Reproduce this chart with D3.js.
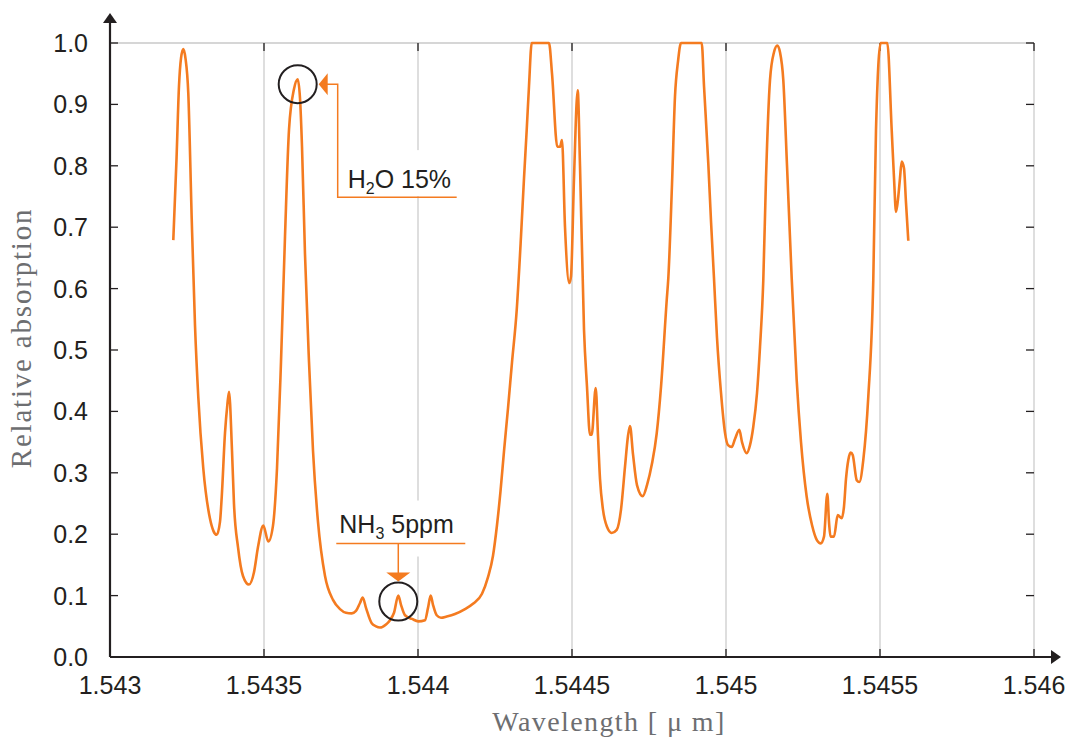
<!DOCTYPE html>
<html>
<head>
<meta charset="utf-8">
<script src="https://cdn.jsdelivr.net/npm/d3@7"></script>
<style>
  body { margin: 0; background: #fff; }
  svg { display: block; }
  .tick-label { font-family: 'Liberation Sans', Arial, sans-serif; font-size: 25px; fill: #231f20; }
  .axis-title { font-family: 'Liberation Serif', 'Times New Roman', serif; fill: #6d6e71; }
  .note { font-family: 'Liberation Sans', Arial, sans-serif; font-size: 25px; fill: #231f20; }
</style>
</head>
<body>
<div id="chart"></div>
<script>
// wavelength [um]
const wavelength = [
  1.5432055, 1.5432159, 1.5432240, 1.5432305, 1.5432380, 1.5432451, 1.5432542, 1.5432653,
  1.5432760, 1.5432867, 1.5433029, 1.5433247, 1.5433360, 1.5433464, 1.5433571, 1.5433627,
  1.5433734, 1.5433808, 1.5433864, 1.5433961, 1.5434026, 1.5434156, 1.5434318, 1.5434513, 1.5434675,
  1.5434805, 1.5434977, 1.5435140, 1.5435292, 1.5435422, 1.5435552, 1.5435682, 1.5435812,
  1.5435974, 1.5436094, 1.5436169, 1.5436234, 1.5436331, 1.5436461, 1.5436591, 1.5436753,
  1.5436981, 1.5437240, 1.5437468, 1.5437662, 1.5437847, 1.5437987, 1.5438117, 1.5438205,
  1.5438312, 1.5438497, 1.5438636, 1.5438766, 1.5438961, 1.5439091, 1.5439221, 1.5439360,
  1.5439448, 1.5439578, 1.5439805, 1.5440010, 1.5440227, 1.5440325, 1.5440412, 1.5440487,
  1.5440607, 1.5440747, 1.5440932, 1.5441201, 1.5441526, 1.5441795, 1.5442078, 1.5442273,
  1.5442435, 1.5442565, 1.5442679, 1.5442792, 1.5442922, 1.5443052, 1.5443205, 1.5443344,
  1.5443442, 1.5443529, 1.5443604, 1.5443692, 1.5444253,
  1.5444351, 1.5444523, 1.5444610, 1.5444675, 1.5444773, 1.5444912, 1.5444968, 1.5445065,
  1.5445185, 1.5445260, 1.5445390, 1.5445487, 1.5445584, 1.5445640, 1.5445770, 1.5445844,
  1.5445909, 1.5446006, 1.5446136, 1.5446289, 1.5446451, 1.5446591, 1.5446721, 1.5446818,
  1.5446883, 1.5446981, 1.5447110, 1.5447295, 1.5447435, 1.5447597, 1.5447750, 1.5447890,
  1.5448075, 1.5448127, 1.5448247, 1.5448344, 1.5448442, 1.5448539, 1.5449211, 1.5449286,
  1.5449425, 1.5449513, 1.5449610, 1.5449708, 1.5449838, 1.5449968, 1.5450065, 1.5450185,
  1.5450292, 1.5450432, 1.5450520, 1.5450672, 1.5450779, 1.5450886, 1.5451007, 1.5451104,
  1.5451211, 1.5451299, 1.5451429, 1.5451558, 1.5451666, 1.5451753, 1.5451860, 1.5451981,
  1.5452133, 1.5452295, 1.5452435, 1.5452620, 1.5452792, 1.5452955, 1.5453075, 1.5453182,
  1.5453289, 1.5453344, 1.5453393, 1.5453507, 1.5453627, 1.5453756, 1.5453831, 1.5453896,
  1.5453971, 1.5454049, 1.5454114, 1.5454244, 1.5454328, 1.5454458, 1.5454620, 1.5454782,
  1.5454870, 1.5455023, 1.5455237, 1.5455380, 1.5455455, 1.5455520, 1.5455594, 1.5455649,
  1.5455705, 1.5455779, 1.5455844, 1.5455919
]

const absorption = [
  0.679, 0.81, 0.93, 0.975, 0.99, 0.975, 0.918, 0.714,
  0.54, 0.423, 0.307, 0.225, 0.205, 0.199, 0.22, 0.26,
  0.365, 0.41, 0.432, 0.336, 0.249, 0.179, 0.132, 0.118, 0.138,
  0.179, 0.214, 0.188, 0.214, 0.307, 0.481, 0.685, 0.859,
  0.925, 0.941, 0.91, 0.831, 0.656, 0.481, 0.336, 0.22,
  0.132, 0.093, 0.078, 0.072, 0.071, 0.075, 0.088, 0.097,
  0.08, 0.055, 0.05, 0.048, 0.053, 0.06, 0.072, 0.10,
  0.085, 0.068, 0.062, 0.058, 0.06, 0.08, 0.10, 0.085,
  0.068, 0.064, 0.066, 0.07, 0.078, 0.087, 0.103, 0.13,
  0.165, 0.215, 0.27, 0.335, 0.405, 0.48, 0.565, 0.685,
  0.78, 0.858, 0.93, 1.0, 1.0,
  0.95, 0.831, 0.831, 0.842, 0.70, 0.609, 0.62, 0.78,
  0.923, 0.80, 0.533, 0.44, 0.362, 0.362, 0.438, 0.36,
  0.29, 0.24, 0.212, 0.202, 0.207, 0.24, 0.31, 0.36,
  0.376, 0.33, 0.28, 0.262, 0.28, 0.315, 0.364, 0.44,
  0.581, 0.617, 0.77, 0.913, 0.97, 1.0, 1.0, 0.93,
  0.804, 0.71, 0.617, 0.52, 0.43, 0.365, 0.345, 0.342,
  0.355, 0.37, 0.35, 0.332, 0.345, 0.375, 0.43, 0.505,
  0.614, 0.78, 0.94, 0.985, 0.996, 0.985, 0.94, 0.80,
  0.617, 0.451, 0.35, 0.261, 0.215, 0.19, 0.185, 0.196,
  0.266, 0.22, 0.196, 0.196, 0.231, 0.226, 0.245, 0.29,
  0.321, 0.333, 0.329, 0.288, 0.285, 0.321, 0.424, 0.614,
  0.858, 1.0, 1.0, 0.858, 0.78, 0.725, 0.75, 0.78,
  0.807, 0.796, 0.74, 0.678
]

const xTicks = [1.543, 1.5435, 1.544, 1.5445, 1.545, 1.5455, 1.546]
const xTickLabels = ['1.543', '1.5435', '1.544', '1.5445', '1.545', '1.5455', '1.546']
const yTicks = [0, 0.1, 0.2, 0.3, 0.4, 0.5, 0.6, 0.7, 0.8, 0.9, 1.0]

// annotated peaks: [wavelength, absorption]
const h2oPeak = [1.5436094, 0.933]
const nh3Peak = [1.5439360, 0.092]

const chartWidth = 1069
const chartHeight = 738
const margin = { top: 43, right: 35, bottom: 81, left: 110 }
const lineColor = '#f47b20'
const gridColor = '#c8c8c8'

const x = d3.scaleLinear()
  .domain([1.543, 1.546])
  .range([margin.left, chartWidth - margin.right])

const y = d3.scaleLinear()
  .domain([0, 1])
  .range([chartHeight - margin.bottom, margin.top])

const svg = d3.select('#chart')
  .append('svg')
    .attr('width', chartWidth)
    .attr('height', chartHeight)

const x0 = x.range()[0]
const x1 = x.range()[1]
const y0 = y.range()[0]
const y1 = y.range()[1]

// grid + frame
svg.append('g')
  .selectAll('line')
  .data(xTicks.slice(1))
  .enter()
  .append('line')
    .attr('x1', d => x(d))
    .attr('x2', d => x(d))
    .attr('y1', y1)
    .attr('y2', y0)
    .attr('stroke', gridColor)
    .attr('stroke-width', 1.2)

svg.append('line')
  .attr('x1', x0)
  .attr('x2', x1)
  .attr('y1', y1)
  .attr('y2', y1)
  .attr('stroke', gridColor)
  .attr('stroke-width', 1.5)

// ticks (all pointing inward)
const tickLen = 8
const tickG = svg.append('g').attr('stroke', '#231f20').attr('stroke-width', 1.3)

tickG.selectAll('.yl')
  .data(yTicks)
  .enter()
  .append('line')
    .attr('x1', x0)
    .attr('x2', x0 + tickLen)
    .attr('y1', d => y(d))
    .attr('y2', d => y(d))

tickG.selectAll('.yr')
  .data(yTicks)
  .enter()
  .append('line')
    .attr('x1', x1 - tickLen)
    .attr('x2', x1)
    .attr('y1', d => y(d))
    .attr('y2', d => y(d))

tickG.selectAll('.xb')
  .data(xTicks)
  .enter()
  .append('line')
    .attr('x1', d => x(d))
    .attr('x2', d => x(d))
    .attr('y1', y0)
    .attr('y2', y0 - tickLen)

tickG.selectAll('.xt')
  .data(xTicks)
  .enter()
  .append('line')
    .attr('x1', d => x(d))
    .attr('x2', d => x(d))
    .attr('y1', y1)
    .attr('y2', y1 + tickLen)

// annotation label backgrounds hide the grid behind the text
const h2oX = x(h2oPeak[0])
const h2oY = y(h2oPeak[1])
const nh3X = x(nh3Peak[0])
const nh3Y = y(nh3Peak[1])

svg.append('rect')
  .attr('x', h2oX + 44)
  .attr('y', h2oY + 66)
  .attr('width', 116)
  .attr('height', 46)
  .attr('fill', '#fff')

svg.append('rect')
  .attr('x', nh3X - 62)
  .attr('y', nh3Y - 100)
  .attr('width', 130)
  .attr('height', 56)
  .attr('fill', '#fff')

// spectrum
const line = d3.line()
  .x(d => x(d[0]))
  .y(d => y(d[1]))
  .curve(d3.curveMonotoneX)

svg.append('path')
  .attr('d', line(d3.zip(wavelength, absorption)))
  .attr('fill', 'none')
  .attr('stroke', lineColor)
  .attr('stroke-width', 2.6)
  .attr('stroke-linejoin', 'round')

// axes with arrows
svg.append('line')
  .attr('x1', x0)
  .attr('x2', x0)
  .attr('y1', y0)
  .attr('y2', 20)
  .attr('stroke', '#231f20')
  .attr('stroke-width', 2.2)

svg.append('path')
  .attr('d', `M${x0},13 L${x0 - 7},23 L${x0 + 7},23 Z`)
  .attr('fill', '#231f20')

svg.append('line')
  .attr('x1', x0)
  .attr('x2', 1055)
  .attr('y1', y0)
  .attr('y2', y0)
  .attr('stroke', '#231f20')
  .attr('stroke-width', 2.2)

svg.append('path')
  .attr('d', `M1061,${y0} L1051,${y0 - 7} L1051,${y0 + 7} Z`)
  .attr('fill', '#231f20')

// tick labels
svg.append('g')
  .selectAll('text')
  .data(yTicks)
  .enter()
  .append('text')
    .attr('class', 'tick-label')
    .attr('x', x0 - 22)
    .attr('y', d => y(d))
    .attr('dy', '0.36em')
    .attr('text-anchor', 'end')
    .text(d => d.toFixed(1))

svg.append('g')
  .selectAll('text')
  .data(xTicks)
  .enter()
  .append('text')
    .attr('class', 'tick-label')
    .attr('x', d => x(d))
    .attr('y', y0 + 37)
    .attr('text-anchor', 'middle')
    .text((d, i) => xTickLabels[i])

// axis titles
svg.append('text')
  .attr('class', 'axis-title')
  .attr('font-size', 29)
  .attr('letter-spacing', 1.8)
  .attr('transform', `translate(31, ${(y0 + y1) / 2 - 12}) rotate(-90)`)
  .attr('text-anchor', 'middle')
  .text('Relative absorption')

svg.append('text')
  .attr('class', 'axis-title')
  .attr('font-size', 28)
  .attr('letter-spacing', 1.4)
  .attr('x', (x0 + x1) / 2 + 37)
  .attr('y', 731)
  .attr('text-anchor', 'middle')
  .text('Wavelength [ \u03bc m]')

// H2O annotation
svg.append('circle')
  .attr('cx', h2oX)
  .attr('cy', h2oY)
  .attr('r', 19)
  .attr('fill', 'none')
  .attr('stroke', '#231f20')
  .attr('stroke-width', 2)

svg.append('path')
  .attr('d', `M${h2oX + 21},${h2oY} L${h2oX + 30},${h2oY - 11} L${h2oX + 30},${h2oY + 11} Z`)
  .attr('fill', lineColor)

svg.append('path')
  .attr('d', `M${h2oX + 28},${h2oY} H${h2oX + 40} V${h2oY + 113} H${h2oX + 159}`)
  .attr('fill', 'none')
  .attr('stroke', lineColor)
  .attr('stroke-width', 1.5)

const h2oText = svg.append('text')
  .attr('class', 'note')
  .attr('x', h2oX + 50)
  .attr('y', h2oY + 104)
h2oText.append('tspan').text('H')
h2oText.append('tspan').attr('font-size', '16px').attr('dy', 6).text('2')
h2oText.append('tspan').attr('dy', -6).text('O 15%')

// NH3 annotation
svg.append('circle')
  .attr('cx', nh3X)
  .attr('cy', nh3Y + 1)
  .attr('r', 19)
  .attr('fill', 'none')
  .attr('stroke', '#231f20')
  .attr('stroke-width', 2)

svg.append('path')
  .attr('d', `M${nh3X - 62},${nh3Y - 57} H${nh3X + 67} M${nh3X},${nh3Y - 57} V${nh3Y - 26}`)
  .attr('fill', 'none')
  .attr('stroke', lineColor)
  .attr('stroke-width', 1.5)

svg.append('path')
  .attr('d', `M${nh3X - 12},${nh3Y - 28} L${nh3X + 12},${nh3Y - 28} L${nh3X},${nh3Y - 19} Z`)
  .attr('fill', lineColor)

const nh3Text = svg.append('text')
  .attr('class', 'note')
  .attr('x', nh3X - 59)
  .attr('y', nh3Y - 68)
nh3Text.append('tspan').text('NH')
nh3Text.append('tspan').attr('font-size', '16px').attr('dy', 6).text('3')
nh3Text.append('tspan').attr('dy', -6).text(' 5ppm')
</script>
</body>
</html>
